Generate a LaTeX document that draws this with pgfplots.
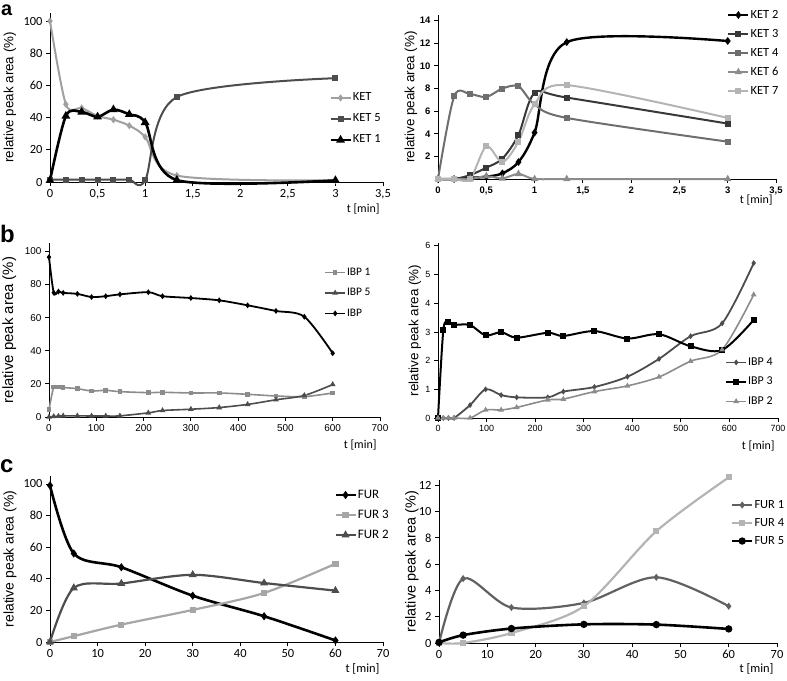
\documentclass[border=0pt]{standalone}
\usepackage{fontspec}
\setmainfont{Carlito}
\newfontfamily\arialf{Liberation Sans}
\usepackage{pgfplots}
\pgfplotsset{compat=1.18}
\definecolor{cA}{HTML}{A0A0A0}
\definecolor{cB}{HTML}{4D4D4D}
\definecolor{cC}{HTML}{6E6E6E}
\definecolor{cD}{HTML}{8C8C8C}
\definecolor{cE}{HTML}{B4B4B4}
\pgfplotsset{
 base/.style={
   scale only axis, anchor=south west, clip=false,
   axis x line*=bottom, axis y line*=left,
   axis line style={line width=0.8bp,-},
   tick align=outside, major tick length=4bp,
   tick style={line width=0.8bp,black},
   /pgf/number format/assume math mode=true,
   /pgf/number format/use comma,
   legend cell align=left,
   legend image code/.code={\draw[mark repeat=2,mark phase=2,##1] plot coordinates {(0bp,0bp) (10bp,0bp) (20bp,0bp)};},
   every axis plot/.append style={smooth, tension=0.5},
 },
 leg/.style n args={4}{legend style={at={(axis description cs:#1,#2)}, anchor=west, draw=none, fill=none, inner sep=0pt,
   row sep=#4, font=\fontsize{#3}{#3}\selectfont,
   nodes={inner sep=1bp, text height=8bp, text depth=2bp}}},
 ylab/.style 2 args={every axis y label/.style={at={(axis description cs:#1,0.5)}, rotate=90, anchor=center, font=\arialf\fontsize{#2}{#2}\selectfont}},
 xlab/.style 2 args={every axis x label/.style={at={(axis description cs:1,#1)}, anchor=east, font=\fontsize{#2}{#2}\selectfont}},
}
\begin{document}
\begin{tikzpicture}
\useasboundingbox (0bp,0bp) rectangle (787bp,-681bp);
\node[anchor=base west, inner sep=0pt, font=\arialf\bfseries\fontsize{20}{20}\selectfont] at (1bp,-15bp) {a};
\node[anchor=base west, inner sep=0pt, font=\arialf\bfseries\fontsize{24}{24}\selectfont] at (0bp,-242bp) {b};
\node[anchor=base west, inner sep=0pt, font=\arialf\bfseries\fontsize{24}{24}\selectfont] at (0bp,-472bp) {c};

% ---------------- a left
\begin{axis}[base, at={(50bp,-182bp)}, width=333bp, height=169bp,
  xmin=0, xmax=3.5, ymin=0, ymax=105,
  xtick={0,0.5,...,3.5}, ytick={0,20,...,100},
  tick label style={font=\fontsize{12.5}{13}\selectfont},
  ylab={-0.12}{13.4}, xlab={-0.16}{12}, ylabel={relative peak area (\%)}, xlabel={t [min]},
  leg={0.838}{0.373}{12.5}{9bp}]
\addplot[cA, line width=2bp, mark=diamond*, mark size=2bp] coordinates {(0,100) (0.1667,48.3) (0.3333,46) (0.5,41) (0.6667,38.7) (0.8333,35) (1,28) (1.3333,4) (3,1)};
\addlegendentry{KET}
\addplot[cB, line width=2bp, mark=square*, mark size=2bp] coordinates {(0,1.5) (0.1667,1.5) (0.3333,1.5) (0.5,1.5) (0.6667,1.5) (0.8333,1.5) (1,1) (1.3333,52.8) (3,64.5)};
\addlegendentry{KET 5}
\addplot[black, line width=2.6bp, mark=triangle*, mark size=2.5bp] coordinates {(0,1) (0.1667,41) (0.3333,43.5) (0.5,40.5) (0.6667,45) (0.8333,42) (1,37) (1.3333,1.2) (3,1)};
\addlegendentry{KET 1}
\end{axis}

% ---------------- a right
\begin{axis}[base, at={(438bp,-179bp)}, width=338bp, height=164bp,
  xmin=0, xmax=3.5, ymin=0, ymax=14.5,
  xtick={0,0.5,...,3.5}, ytick={2,4,...,14},
  tick label style={font=\arialf\bfseries\fontsize{9.5}{10}\selectfont},
  ylab={-0.08}{13.5}, xlab={-0.13}{12}, ylabel={relative peak area (\%)}, xlabel={t [min]},
  leg={0.855}{0.768}{12.5}{7bp}]
\addplot[black, line width=2.4bp, mark=diamond*, mark size=2bp] coordinates {(0,0) (0.1667,0) (0.3333,0.1) (0.5,0.2) (0.6667,0.5) (0.8333,1.5) (1,4.1) (1.3333,12.1) (3,12.2)};
\addlegendentry{KET 2}
\addplot[black!78, line width=2bp, mark=square*, mark size=2bp] coordinates {(0,0) (0.1667,0) (0.3333,0.35) (0.5,1.0) (0.6667,1.8) (0.8333,3.9) (1,7.6) (1.3333,7.2) (3,4.9)};
\addlegendentry{KET 3}
\addplot[cC, line width=2bp, mark=square*, mark size=2bp] coordinates {(0,0) (0.1667,7.3) (0.3333,7.5) (0.5,7.25) (0.6667,8.0) (0.8333,8.2) (1,6.6) (1.3333,5.4) (3,3.3)};
\addlegendentry{KET 4}
\addplot[cD, line width=2bp, mark=triangle*, mark size=2.3bp] coordinates {(0,0) (0.1667,0) (0.3333,0) (0.5,0.25) (0.6667,0.05) (0.8333,0.45) (1,0) (1.3333,0) (3,0)};
\addlegendentry{KET 6}
\addplot[cE, line width=2bp, mark=square*, mark size=2bp] coordinates {(0,0) (0.1667,0) (0.3333,0) (0.5,2.9) (0.6667,1.5) (0.8333,3.3) (1,6.6) (1.3333,8.3) (3,5.4)};
\addlegendentry{KET 7}
\end{axis}

% ---------------- b left
\begin{axis}[base, at={(49bp,-417bp)}, width=331bp, height=174bp,
  xmin=0, xmax=700, ymin=0, ymax=105,
  xtick={0,100,...,700}, ytick={0,20,...,100},
  tick label style={font=\arialf\fontsize{10}{11}\selectfont},
  ylab={-0.12}{15}, xlab={-0.16}{12}, ylabel={relative peak area (\%)}, xlabel={t [min]},
  leg={0.831}{0.713}{11.5}{8.5bp}]
\addplot[cD, line width=1.6bp, mark=square*, mark size=1.5bp] coordinates {(0,4.5) (10,18) (20,18.2) (30,17.8) (60,17.1) (90,15.7) (120,16.1) (150,15.3) (210,14.7) (240,14.9) (300,14.5) (360,14.5) (420,13.7) (480,12.7) (540,12.3) (600,14.5)};
\addlegendentry{IBP 1}
\addplot[cB, line width=1.6bp, mark=triangle*, mark size=1.8bp] coordinates {(0,0) (10,0.3) (20,0.5) (30,0.7) (60,0.7) (90,0.6) (120,0.6) (150,0.7) (210,2.5) (240,3.9) (300,4.7) (360,5.7) (420,7.6) (480,10.4) (540,13) (600,19.6)};
\addlegendentry{IBP 5}
\addplot[black, line width=1.8bp, mark=diamond*, mark size=1.5bp] coordinates {(0,96.5) (10,75) (20,75.7) (30,74.9) (60,74.3) (90,72.4) (120,72.9) (150,74) (210,75.3) (240,72.9) (300,71.8) (360,70.4) (420,67.4) (480,64) (540,60.5) (600,38.5)};
\addlegendentry{IBP}
\end{axis}

% ---------------- b right
\begin{axis}[base, at={(438bp,-418bp)}, width=340bp, height=175bp,
  xmin=0, xmax=700, ymin=0, ymax=6.1,
  xtick={0,100,...,700}, ytick={0,1,...,6},
  tick label style={font=\arialf\fontsize{9}{10}\selectfont},
  ylab={-0.068}{13.5}, xlab={-0.16}{12}, ylabel={relative peak area (\%)}, xlabel={t [min]},
  leg={0.844}{0.206}{12}{7.5bp}]
\addplot[cB, line width=1.8bp, mark=diamond*, mark size=1.5bp] coordinates {(0,0) (11,0) (21.5,0) (33,0) (66,0.45) (98,1.0) (130,0.8) (162,0.72) (226,0.72) (258,0.92) (322,1.08) (390,1.44) (455,2.06) (520,2.85) (585,3.3) (650,5.4)};
\addlegendentry{IBP 4}
\addplot[black, line width=2bp, mark=square*, mark size=2bp] coordinates {(0,0) (11,3.07) (21.5,3.33) (33,3.25) (66,3.24) (98,2.88) (130,2.99) (162,2.8) (226,2.97) (258,2.86) (322,3.03) (390,2.77) (455,2.92) (520,2.5) (585,2.37) (650,3.42)};
\addlegendentry{IBP 3}
\addplot[black!45, line width=1.6bp, mark=triangle*, mark size=1.8bp] coordinates {(0,0) (11,0) (21.5,0) (33,0) (66,0) (98,0.28) (130,0.28) (162,0.37) (226,0.63) (258,0.66) (322,0.92) (390,1.12) (455,1.43) (520,1.98) (585,2.38) (650,4.3)};
\addlegendentry{IBP 2}
\end{axis}

% ---------------- c left
\begin{axis}[base, at={(50bp,-642bp)}, width=333bp, height=166bp,
  xmin=0, xmax=70, ymin=0, ymax=105,
  xtick={0,10,...,70}, ytick={0,20,...,100},
  tick label style={font=\fontsize{12.5}{13}\selectfont},
  ylab={-0.12}{14}, xlab={-0.16}{12.5}, ylabel={relative peak area (\%)}, xlabel={t [min]},
  leg={0.853}{0.765}{13}{8bp}]
\addplot[black, line width=2.6bp, mark=diamond*, mark size=2bp] coordinates {(0,99) (5,56) (15,47.3) (30,29.3) (45,16.3) (60,1)};
\addlegendentry{FUR}
\addplot[black!35, line width=2.2bp, mark=square*, mark size=2bp] coordinates {(0,0) (5,3.7) (15,11) (30,20.3) (45,31) (60,49.5)};
\addlegendentry{FUR 3}
\addplot[cB, line width=2.2bp, mark=triangle*, mark size=2.5bp] coordinates {(0,0) (5,34.2) (15,37) (30,42.5) (45,37.3) (60,32.5)};
\addlegendentry{FUR 2}
\end{axis}

% ---------------- c right
\begin{axis}[base, at={(439bp,-643bp)}, width=338bp, height=163bp,
  xmin=0, xmax=70, ymin=0, ymax=12.4,
  xtick={0,10,...,70}, ytick={0,2,...,12},
  tick label style={font=\fontsize{12.5}{13}\selectfont},
  ylab={-0.08}{14.5}, xlab={-0.16}{12.5}, ylabel={relative peak area (\%)}, xlabel={t [min]},
  leg={0.863}{0.736}{12.5}{6bp}]
\addplot[black!62, line width=2.2bp, mark=diamond*, mark size=1.8bp] coordinates {(0,0) (5,4.9) (15,2.7) (30,3.05) (45,5.0) (60,2.8)};
\addlegendentry{FUR 1}
\addplot[cE, line width=2.2bp, mark=square*, mark size=2bp] coordinates {(0,0) (5,0) (15,0.76) (30,2.8) (45,8.5) (60,12.6)};
\addlegendentry{FUR 4}
\addplot[black, line width=2.6bp, mark=*, mark size=2.3bp] coordinates {(0,0.05) (5,0.6) (15,1.1) (30,1.42) (45,1.4) (60,1.07)};
\addlegendentry{FUR 5}
\end{axis}
\end{tikzpicture}
\end{document}
